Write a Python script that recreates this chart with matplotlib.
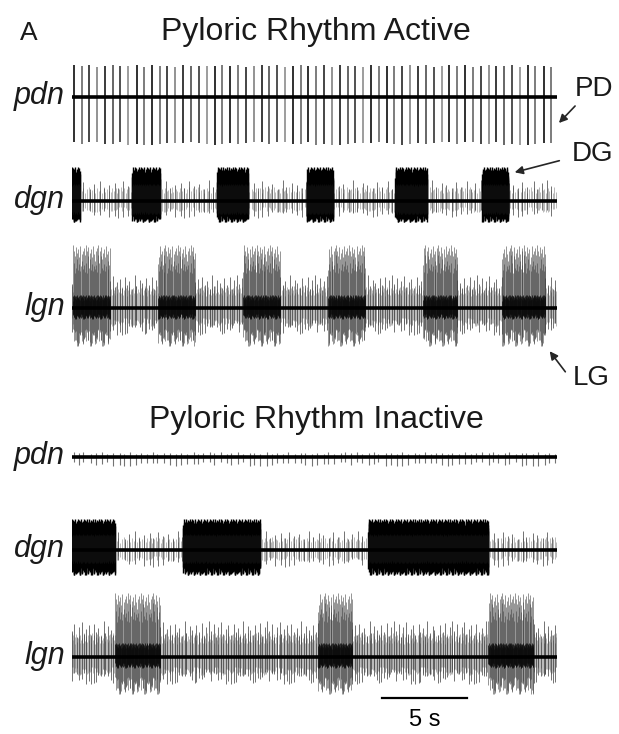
import matplotlib
matplotlib.use("Agg")
import matplotlib.pyplot as plt

# recording length and scale bar (s)
T_END = 28.5
SCALE_BAR_S = 5.0
SCALE_BAR_START = 18.2

# pattern tables used to vary spike heights and intervals
AMP_CYCLE = [1.0, 0.72, 0.91, 0.55, 0.83, 0.97, 0.64, 0.78, 0.88, 0.6, 0.93, 0.7,
             0.81, 0.58, 0.99, 0.67, 0.86, 0.75, 0.62, 0.9, 0.69, 0.95, 0.57, 0.84]
GAP_CYCLE = [1.0, 0.7, 1.3, 0.9, 1.15, 0.8, 1.05, 1.25, 0.75, 0.95, 1.1, 0.85, 1.2]
GREY_CYCLE = ['0.05', '0.4', '0.15', '0.5', '0.1', '0.3', '0.2', '0.55', '0.05', '0.4']

# pyloric rhythm active
PD_PERIOD = 0.46
PD_UP, PD_DOWN = 32, 48
DG_BURSTS_ACT = [(0.0, 0.47), (3.53, 5.18), (8.53, 10.35), (13.82, 15.35),
                 (19.0, 20.88), (24.12, 25.65)]
LG_BURSTS_ACT = [(0.06, 2.24), (5.06, 7.24), (10.06, 12.24), (15.06, 17.24),
                 (20.65, 22.65), (25.29, 27.82)]

# pyloric rhythm inactive
DG_BURSTS_INACT = [(0.0, 2.53), (6.53, 11.06), (17.41, 24.47)]
LG_BURSTS_INACT = [(2.53, 5.18), (14.47, 16.47), (24.47, 27.12)]

# trace baselines in figure pixels (from top)
BASE_PX = [97, 201, 308, 457, 550, 657]
FIG_W, FIG_H = 619, 734
X0_PX, X1_PX = 72, 557


def spike_train(t0, t1, rate, up, down, k0=0, jitter=1.0):
    times, hi, lo = [], [], []
    t, i = t0, k0
    while t < t1:
        times.append(t)
        hi.append(up * AMP_CYCLE[i % len(AMP_CYCLE)])
        lo.append(-down * AMP_CYCLE[(i * 5 + 3) % len(AMP_CYCLE)])
        t += (1 + jitter * (GAP_CYCLE[i % len(GAP_CYCLE)] - 1)) / rate
        i += 1
    return times, hi, lo


def gaps(bursts):
    out, t = [], 0.0
    for a, b in bursts:
        if a > t:
            out.append((t, a))
        t = b
    if t < T_END:
        out.append((t, T_END))
    return out


def draw_bursty(ax, bursts, b_rate, b_up, b_down, b_col, t_rate, t_up, t_down,
                b_lw=0.7, b_alpha=0.8, core=1.2):
    for k, (a, b) in enumerate(gaps(bursts)):
        t, hi, lo = spike_train(a, b, t_rate, t_up, t_down, k0=k * 7)
        ax.vlines(t, lo, hi, color='0.45', lw=0.5, alpha=0.7)
        t, hi, lo = spike_train(a, b, t_rate * 0.35, t_up * 1.5, t_down * 1.5, k0=k * 3 + 1)
        ax.vlines(t, lo, hi, color='0.2', lw=0.6, alpha=0.8)
    for k, (a, b) in enumerate(bursts):
        t, hi, lo = spike_train(a, b, b_rate, b_up, b_down, k0=k * 11)
        ax.vlines(t, lo, hi, color=b_col, lw=b_lw, alpha=b_alpha)
        # dense core near the baseline
        t, hi, lo = spike_train(a, b, b_rate * 1.5, t_up * core, t_down * core, k0=k * 5 + 2)
        ax.vlines(t, lo, hi, color='0.05', lw=0.7, alpha=0.8)


fig = plt.figure(figsize=(FIG_W / 100, FIG_H / 100), dpi=100)

axes = []
for b in BASE_PX:
    h = 140
    ax = fig.add_axes([X0_PX / FIG_W, 1 - (b + h / 2) / FIG_H,
                       (X1_PX - X0_PX) / FIG_W, h / FIG_H])
    ax.set_xlim(0, T_END)
    ax.set_ylim(-h / 2, h / 2)
    ax.axis('off')
    ax.plot([0, T_END], [0, 0], color='black', lw=2.6, zorder=5, solid_capstyle='butt')
    axes.append(ax)

# pdn, rhythm active: one PD burst per cycle
ax = axes[0]
t, hi, lo = spike_train(0.1, T_END, 1 / PD_PERIOD, PD_UP, PD_DOWN, jitter=0.15)
hi = [PD_UP - 0.12 * (PD_UP - h) for h in hi]
lo = [-PD_DOWN + 0.15 * (PD_DOWN + l) for l in lo]
cols = [GREY_CYCLE[i % len(GREY_CYCLE)] for i in range(len(t))]
ax.vlines(t, lo, hi, colors=cols, lw=1.2)

# dgn, rhythm active
draw_bursty(axes[1], DG_BURSTS_ACT, 70, 34, 21, 'black', 10, 14, 11, b_lw=1.0, b_alpha=1.0)

# lgn, rhythm active
draw_bursty(axes[2], LG_BURSTS_ACT, 32, 63, 38, '0.25', 20, 22, 18, b_lw=0.6, b_alpha=0.65,
            core=0.6)

# pdn, rhythm inactive: small sparse units only
ax = axes[3]
t, hi, lo = spike_train(0.1, T_END, 3, 5, 9)
ax.vlines(t, lo, hi, color='0.45', lw=0.8)

# dgn, rhythm inactive
draw_bursty(axes[4], DG_BURSTS_INACT, 70, 31, 25, 'black', 10, 13, 11, b_lw=1.0, b_alpha=1.0)

# lgn, rhythm inactive
draw_bursty(axes[5], LG_BURSTS_INACT, 32, 64, 37, '0.25', 20, 24, 18, b_lw=0.6, b_alpha=0.65,
            core=0.6)

# scale bar
ax = axes[5]
ax.plot([SCALE_BAR_START, SCALE_BAR_START + SCALE_BAR_S], [-41, -41], color='black', lw=1.6,
        clip_on=False)
ax.text(SCALE_BAR_START + SCALE_BAR_S / 2, -52, '%d s' % SCALE_BAR_S, ha='center', va='top',
        fontsize=17, family='Liberation Sans', clip_on=False)

# labels and annotations in pixel coordinates
lab = fig.add_axes([0, 0, 1, 1], facecolor='none')
lab.set_xlim(0, FIG_W)
lab.set_ylim(FIG_H, 0)
lab.axis('off')

font = dict(family='Liberation Sans', color='0.1')
lab.text(29, 33, 'A', fontsize=19, ha='center', va='center', **font)
lab.text(316, 32, 'Pyloric Rhythm Active', fontsize=23, ha='center', va='center', **font)
lab.text(316, 420, 'Pyloric Rhythm Inactive', fontsize=23, ha='center', va='center', **font)

nerves = ['pdn', 'dgn', 'lgn', 'pdn', 'dgn', 'lgn']
for name, b in zip(nerves, BASE_PX):
    lab.text(65, b - 1, name, fontsize=22, style='italic', ha='right', va='center', **font)

for name, xy in [('PD', (594, 89)), ('DG', (593, 154)), ('LG', (591, 378))]:
    lab.text(xy[0], xy[1], name, fontsize=20, ha='center', va='center', **font)

arrow = dict(arrowstyle='-|>', color='0.15', lw=1.2, mutation_scale=12)
lab.annotate('', xy=(557, 125), xytext=(577, 104), arrowprops=arrow)
lab.annotate('', xy=(512, 173), xytext=(562, 160), arrowprops=arrow)
lab.annotate('', xy=(548, 349), xytext=(567, 374), arrowprops=arrow)

fig.savefig('out.png', dpi=100)
